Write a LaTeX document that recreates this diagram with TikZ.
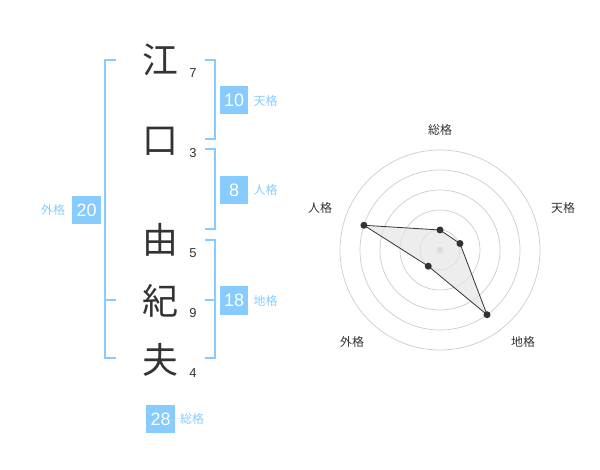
\documentclass[tikz,border=0pt]{standalone}
\usepackage{fontspec}
\setmainfont{Liberation Sans}
\newfontfamily\jpfont{Noto Sans CJK JP}
\usetikzlibrary{positioning,calc}
\definecolor{kakublue}{RGB}{136,204,255}
\definecolor{inkcol}{RGB}{51,51,51}
\definecolor{ringcol}{RGB}{204,204,204}
\tikzset{
  kanji/.style={font=\jpfont\fontsize{36}{36}\selectfont,text=inkcol,inner sep=0pt},
  stroke/.style={font=\fontsize{13}{13}\selectfont,text=inkcol,inner sep=0pt},
  kakubox/.style={fill=kakublue,text=white,minimum width=28.5bp,minimum height=28bp,
    inner sep=0pt,font=\fontsize{18}{18}\selectfont},
  kakulabel/.style={font=\jpfont\fontsize{12}{12}\selectfont,text=kakublue,inner sep=0pt},
  bracket/.style={draw=kakublue,line width=2bp},
  ring/.style={draw=ringcol,line width=0.7bp},
  axislabel/.style={font=\jpfont\fontsize{12}{12}\selectfont,text=inkcol,inner sep=0pt},
  dot/.style={circle,fill=inkcol,minimum size=7bp,inner sep=0pt},
}
\begin{document}
\begin{tikzpicture}[x=1bp,y=-1bp,line join=miter]
\useasboundingbox (0,0) rectangle (600,470);
% name characters
\node[kanji] (c1) at (160,60) {江};
\node[kanji] (c2) at (160,141) {口};
\node[kanji] (c3) at (160,240) {由};
\node[kanji] (c4) at (160,301) {紀};
\node[kanji] (c5) at (160,360) {夫};
\node[stroke] (s1) at (193,73) {7};
\node[stroke] (s2) at (193,153) {3};
\node[stroke] (s3) at (193,253) {5};
\node[stroke] (s4) at (193,313) {9};
\node[stroke] (s5) at (193,373) {4};
% brackets
\draw[bracket] (116,60) -- (105,60) -- (105,358) -- (116,358);
\draw[bracket] (105,300) -- (116,300);
\draw[bracket] (205,60) -- (215,60) -- (215,139) -- (205,139);
\draw[bracket] (205,149) -- (215,149) -- (215,229) -- (205,229);
\draw[bracket] (205,240) -- (215,240) -- (215,358) -- (205,358);
\draw[bracket] (205,300) -- (215,300);
% totals
\node[kakubox] (ten) at (234,100.5) {10};
\node[kakulabel,right=5bp of ten] (tenl) {天格};
\node[kakubox] (jin) at (234,190) {8};
\node[kakulabel,right=5bp of jin] (jinl) {人格};
\node[kakubox] (chi) at (234,300.5) {18};
\node[kakulabel,right=5bp of chi] (chil) {地格};
\node[kakubox] (gai) at (86.7,210) {20};
\node[kakulabel,left=7bp of gai] (gail) {外格};
\node[kakubox] (sou) at (160.5,419) {28};
\node[kakulabel,right=5bp of sou] (soul) {総格};
% radar
\begin{scope}[shift={(440,250)},y=1bp]
\foreach \r in {20,40,60,80,100}
  \draw[ring] (0,0) circle (\r);
\fill[ringcol] (0,0) circle (3.5);
\coordinate (rs) at (90:20);
\coordinate (rt) at (18:21);
\coordinate (rc) at (-54:80);
\coordinate (rg) at (234:20);
\coordinate (rj) at (162:80);
\filldraw[fill=black!10,fill opacity=0.7,draw=inkcol,line width=0.8bp]
  (rs) -- (rt) -- (rc) -- (rg) -- (rj) -- cycle;
\foreach \p in {rs,rt,rc,rg,rj}
  \node[dot] at (\p) {};
\node[axislabel] (ls) at (0,120) {総格};
\node[axislabel] (lt) at (123,42) {天格};
\node[axislabel] (lj) at (-120,42) {人格};
\node[axislabel] (lc) at (83,-92) {地格};
\node[axislabel] (lg) at (-88,-92) {外格};
\end{scope}
\end{tikzpicture}
\end{document}
